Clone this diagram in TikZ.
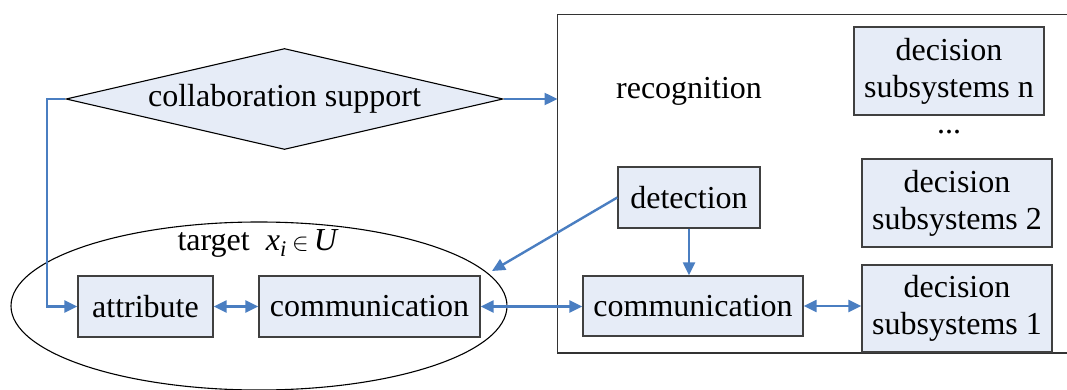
\documentclass[tikz,border=0pt]{standalone}
\usepackage{fontspec}
\setmainfont{Liberation Serif}
\usetikzlibrary{shapes.geometric,arrows.meta}
\definecolor{boxfill}{HTML}{E6ECF7}
\definecolor{boxline}{HTML}{404040}
\definecolor{arr}{HTML}{4A7EC1}
\begin{document}
\begin{tikzpicture}[x=1pt,y=-1pt,
  txt/.style={font=\fontsize{32}{37}\selectfont},
  sbox/.style={txt,draw=boxline,line width=1.4pt,fill=boxfill,inner sep=0pt,align=center},
  conn/.style={draw=arr,line width=2.4pt,-{Triangle[length=13pt,width=12pt]}},
  dconn/.style={draw=arr,line width=2.4pt,{Triangle[length=13pt,width=12pt]}-{Triangle[length=13pt,width=12pt]}}]
\useasboundingbox (0,0) rectangle (1067,390);
% frame
\draw[draw=black!80,line width=1.2pt] (1070,14.5) -- (557.5,14.5) -- (557.5,353) -- (1070,353);
% ellipse
\draw[line width=1.1pt] (259,306) ellipse [x radius=248, y radius=84];
% diamond
\node[txt,shape=diamond,draw=black,line width=1.1pt,fill=boxfill,inner sep=0pt,aspect=4.3,
  minimum width=437pt,minimum height=101pt] (cs) at (284.5,99) {collaboration support};
% boxes
\node[sbox,minimum width=135pt,minimum height=61pt] (attr) at (145.5,306.5) {attribute};
\node[sbox,minimum width=221pt,minimum height=61pt] (cl) at (369.5,306.5) {communication};
\node[sbox,minimum width=220pt,minimum height=60pt] (cr) at (693,306) {communication};
\node[sbox,minimum width=142pt,minimum height=61pt] (det) at (689,197.5) {detection};
\node[sbox,minimum width=190pt,minimum height=88pt] (dn) at (949,71) {\raisebox{0pt}[0pt][0pt]{}decision\\subsystems n};
\node[sbox,minimum width=190pt,minimum height=88pt] (d2) at (957,203) {decision\\subsystems 2};
\node[sbox,minimum width=190pt,minimum height=87pt] (d1) at (957,308.5) {decision\\subsystems 1};
% texts
\node[txt] (rec) at (689,91) {recognition};
\node[txt] (dots) at (949,132) {...};
\node[txt,anchor=west] (tgt) at (174,243) {target \ \textit{x}\textsubscript{\textit{i}}\,$\in$\,\textit{U}};
% connectors
\coordinate (fr) at (557.5,99);
\coordinate (ep) at (492,271);
\draw[conn] (cs.east) -- (fr);
\draw[conn] (cs.west) -- (47,99) |- (attr.west);
\draw[dconn] (attr.east) -- (cl.west);
\draw[dconn] (cl.east) -- (cl.east -| cr.west);
\draw[dconn] (cr.east) -- (cr.east -| d1.west);
\draw[conn] (det.south) -- (det.south |- cr.north);
\draw[conn] (det.west) -- (ep);
\end{tikzpicture}
\end{document}
